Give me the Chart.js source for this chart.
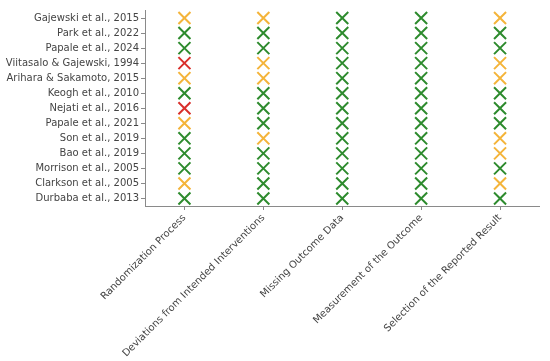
<!DOCTYPE html>
<html>
<head>
<meta charset="utf-8">
<script src="https://cdn.jsdelivr.net/npm/chart.js@4"></script>
<style>
  html, body { margin: 0; padding: 0; background: #fff; }
  #wrap { width: 550px; height: 361px; }
</style>
</head>
<body>
<div id="wrap"><canvas id="c" width="550" height="361"></canvas></div>
<script>
const studies = [
  "Gajewski et al., 2015",
  "Park et al., 2022",
  "Papale et al., 2024",
  "Viitasalo & Gajewski, 1994",
  "Arihara & Sakamoto, 2015",
  "Keogh et al., 2010",
  "Nejati et al., 2016",
  "Papale et al., 2021",
  "Son et al., 2019",
  "Bao et al., 2019",
  "Morrison et al., 2005",
  "Clarkson et al., 2005",
  "Durbaba et al., 2013"
];
const domains = [
  "Randomization Process",
  "Deviations from Intended Interventions",
  "Missing Outcome Data",
  "Measurement of the Outcome",
  "Selection of the Reported Result"
];
// L = low risk, S = some concerns, H = high risk (one entry per study, top to bottom)
const randomization = ["S","L","L","H","S","L","H","S","L","L","L","S","L"];
const deviations    = ["S","L","L","S","S","L","L","L","S","L","L","L","L"];
const missingData   = ["L","L","L","L","L","L","L","L","L","L","L","L","L"];
const measurement   = ["L","L","L","L","L","L","L","L","L","L","L","L","L"];
const selection     = ["S","L","L","S","S","L","L","L","S","S","L","S","L"];

const ratings = [randomization, deviations, missingData, measurement, selection];
const colors = { L: "#2e8b2e", S: "#f4b43a", H: "#d9302c" };

const points = [];
const pointColors = [];
ratings.forEach((col, xi) => {
  col.forEach((r, yi) => {
    points.push({ x: xi, y: yi });
    pointColors.push(colors[r]);
  });
});

const axisColor = "#8a8a8a";
const textColor = "#444444";

new Chart(document.getElementById("c"), {
  type: "scatter",
  data: {
    datasets: [{
      data: points,
      pointStyle: "crossRot",
      pointRadius: 8.5,
      pointHoverRadius: 8.5,
      pointBorderWidth: 2,
      pointBorderColor: pointColors,
      pointBackgroundColor: pointColors
    }]
  },
  options: {
    responsive: false,
    animation: false,
    devicePixelRatio: 1,
    layout: { padding: { top: 6, right: 7, left: 0, bottom: 0 } },
    plugins: { legend: { display: false }, tooltip: { enabled: false } },
    scales: {
      x: {
        type: "linear",
        min: -0.5,
        max: 4.5,
        afterBuildTicks: (axis) => { axis.ticks = domains.map((_, i) => ({ value: i })); },
        afterFit: (scale) => { scale.height = 155; },
        grid: { display: true, drawOnChartArea: false, drawTicks: true, tickLength: 4, color: axisColor },
        border: { display: true, color: axisColor, width: 1 },
        ticks: {
          autoSkip: false,
          maxRotation: 45,
          minRotation: 45,
          padding: 2,
          color: textColor,
          font: { family: "DejaVu Sans", size: 10 },
          callback: (v) => domains[v]
        }
      },
      y: {
        type: "linear",
        min: -0.5,
        max: 12.5,
        reverse: true,
        afterBuildTicks: (axis) => { axis.ticks = studies.map((_, i) => ({ value: i })); },
        afterFit: (scale) => { scale.width = 145; },
        grid: { display: true, drawOnChartArea: false, drawTicks: true, tickLength: 4, color: axisColor },
        border: { display: true, color: axisColor, width: 1 },
        ticks: {
          autoSkip: false,
          padding: 2,
          color: textColor,
          font: { family: "DejaVu Sans", size: 10 },
          callback: (v) => studies[v]
        }
      }
    }
  }
});
</script>
</body>
</html>
